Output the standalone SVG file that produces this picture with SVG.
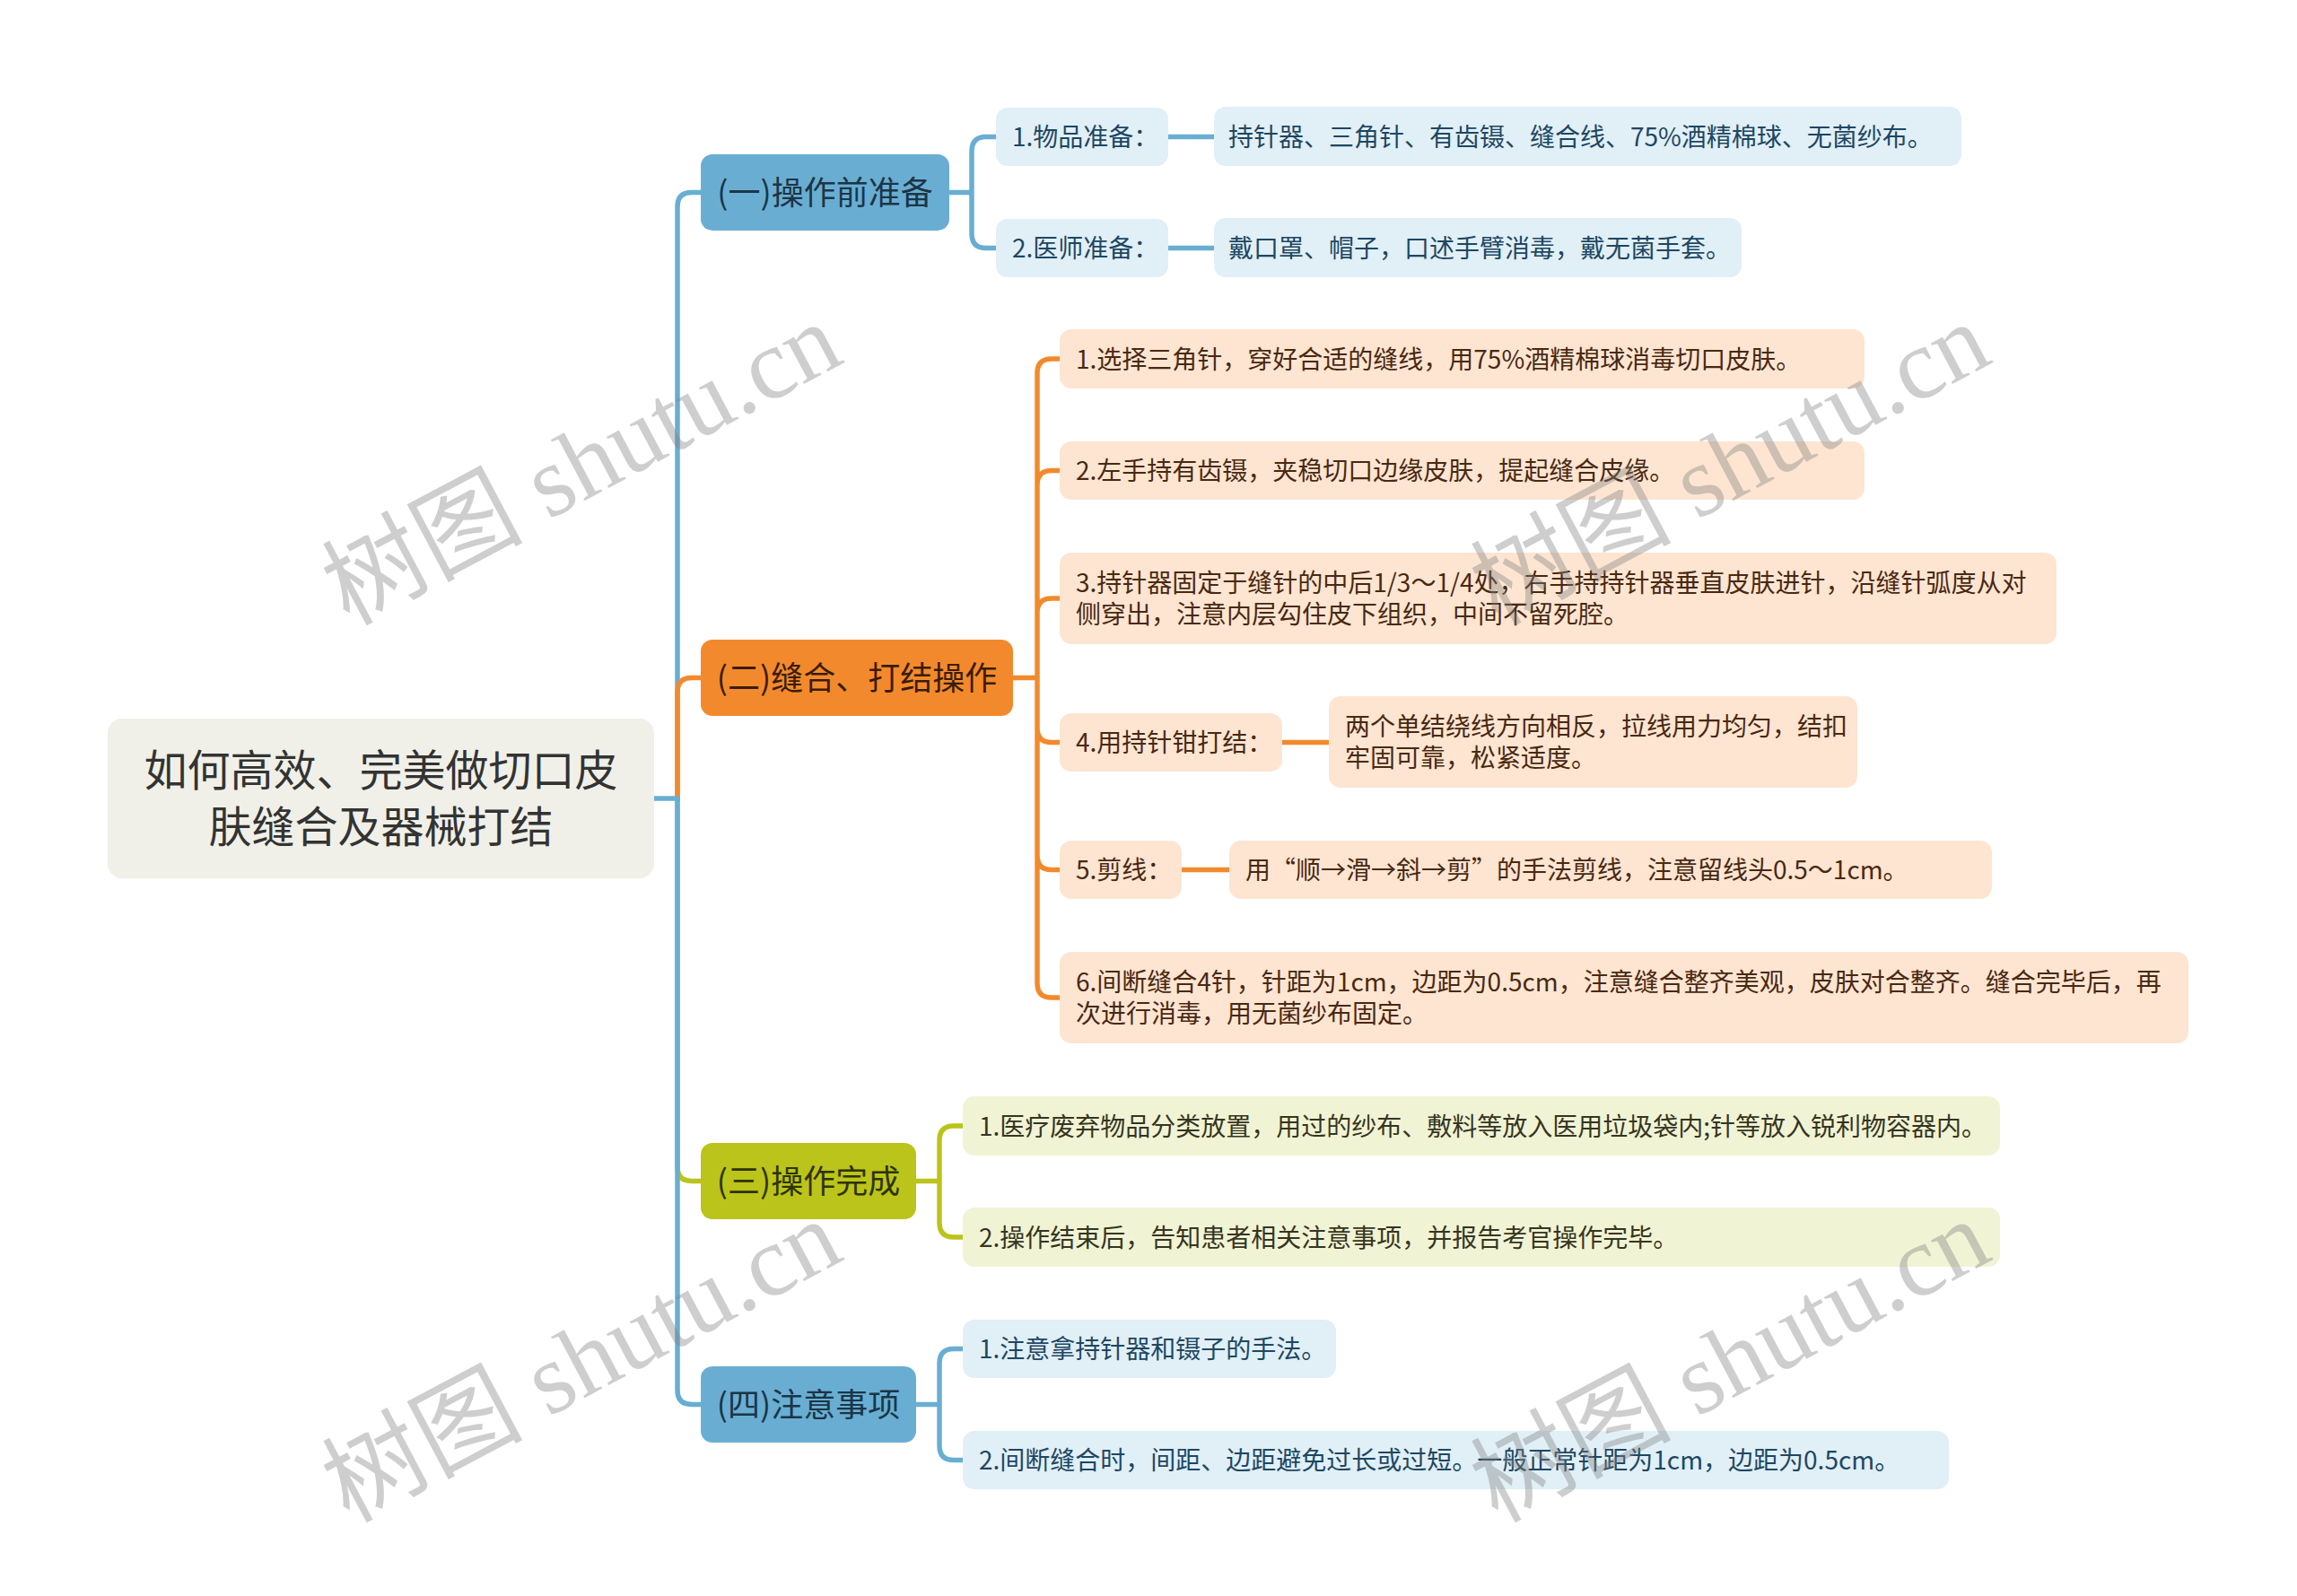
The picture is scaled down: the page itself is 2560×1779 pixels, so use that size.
<svg xmlns="http://www.w3.org/2000/svg" width="2560" height="1779" viewBox="0 0 2560 1779">
<style>
text{font-family:"Noto Sans CJK SC","Noto Sans",sans-serif}
.root rect{fill:#f0f0e8}
.root text{font-size:48px;fill:#333333;text-anchor:middle}
.l1 text{font-size:36px;text-anchor:middle}
.b1 rect{fill:#69aed2}.b1 text{fill:#1b3547}
.o1 rect{fill:#f28a2d}.o1 text{fill:#3a1c04}
.g1 rect{fill:#bac41a}.g1 text{fill:#2f3300}
.lf text{font-size:28px}
.bl rect{fill:#e1eff7}.bl text{fill:#1d4763}
.ol rect{fill:#fde5d2}.ol text{fill:#4a2810}
.gl rect{fill:#f1f3d5}.gl text{fill:#353520}
.c path{fill:none;stroke-width:5.5;stroke-linecap:butt}
.cb{stroke:#69aed2}.co{stroke:#f28a2d}.cg{stroke:#bac41a}
.wm text{font-family:"Liberation Serif","Noto Sans CJK SC",serif;font-size:112px;fill:#808080;opacity:0.38}
</style>
<rect width="2560" height="1779" fill="#ffffff"/>
<g class="c" id="connectors">
<path class="cb" d="M755,890 V230.5 Q755,214.5 771,214.5 H783"/>
<path class="co" d="M755,890 V771.5 Q755,755.5 771,755.5 H783"/>
<path class="cg" d="M755,890 V1300.5 Q755,1316.5 771,1316.5 H783"/>
<path class="cb" d="M755,890 V1549.5 Q755,1565.5 771,1565.5 H783"/>
<path class="cb" d="M727,890 H758"/>
<path class="cb" d="M1056,214.5 H1083 M1083,214.5 V168.5 Q1083,152.5 1099,152.5 H1112 M1083,214.5 V260.5 Q1083,276.5 1099,276.5 H1112"/>
<path class="cb" d="M1300,152.5 H1355 M1300,276.5 H1355"/>
<path class="co" d="M1127,755.5 H1156 M1156,755.5 V416 Q1156,400 1172,400 H1183 M1156,755.5 V540.5 Q1156,524.5 1172,524.5 H1183 M1156,755.5 V683 Q1156,667 1172,667 H1183 M1156,755.5 V811.5 Q1156,827.5 1172,827.5 H1183 M1156,755.5 V953.5 Q1156,969.5 1172,969.5 H1183 M1156,755.5 V1096 Q1156,1112 1172,1112 H1183"/>
<path class="co" d="M1427,827.5 H1483 M1315,969.5 H1372"/>
<path class="cg" d="M1019,1316.5 H1047 M1047,1316.5 V1271 Q1047,1255 1063,1255 H1075 M1047,1316.5 V1363 Q1047,1379 1063,1379 H1075"/>
<path class="cb" d="M1019,1565.5 H1047 M1047,1565.5 V1519.5 Q1047,1503.5 1063,1503.5 H1075 M1047,1565.5 V1611.5 Q1047,1627.5 1063,1627.5 H1075"/>
</g>
<g id="root" class="root">
<rect x="120" y="801" width="609" height="178" rx="16"/>
<text x="424.5" y="876">如何高效、完美做切口皮</text>
<text x="424.5" y="939">肤缝合及器械打结</text>
</g>
<g id="n1" class="l1 b1"><rect x="781" y="172" width="277" height="85" rx="13"/><text x="919.5" y="228">(一)操作前准备</text></g>
<g id="n2" class="l1 o1"><rect x="781" y="713" width="348" height="85" rx="13"/><text x="955" y="769">(二)缝合、打结操作</text></g>
<g id="n3" class="l1 g1"><rect x="781" y="1274" width="240" height="85" rx="13"/><text x="901" y="1330">(三)操作完成</text></g>
<g id="n4" class="l1 b1"><rect x="781" y="1523" width="240" height="85" rx="13"/><text x="901" y="1579">(四)注意事项</text></g>

<g id="n1-1" class="lf bl"><rect x="1110" y="120" width="192" height="65" rx="13"/><text x="1128" y="163">1.物品准备：</text></g>
<g id="n1-1-1" class="lf bl"><rect x="1353" y="119" width="833" height="66" rx="13"/><text x="1369" y="163">持针器、三角针、有齿镊、缝合线、75%酒精棉球、无菌纱布。</text></g>
<g id="n1-2" class="lf bl"><rect x="1110" y="244" width="192" height="65" rx="13"/><text x="1128" y="287">2.医师准备：</text></g>
<g id="n1-2-1" class="lf bl"><rect x="1353" y="243" width="588" height="66" rx="13"/><text x="1369" y="287">戴口罩、帽子，口述手臂消毒，戴无菌手套。</text></g>

<g id="n2-1" class="lf ol"><rect x="1181" y="367" width="897" height="66" rx="13"/><text x="1199" y="411">1.选择三角针，穿好合适的缝线，用75%酒精棉球消毒切口皮肤。</text></g>
<g id="n2-2" class="lf ol"><rect x="1181" y="492" width="897" height="65" rx="13"/><text x="1199" y="535">2.左手持有齿镊，夹稳切口边缘皮肤，提起缝合皮缘。</text></g>
<g id="n2-3" class="lf ol"><rect x="1181" y="616" width="1111" height="102" rx="13"/><text x="1199" y="660">3.持针器固定于缝针的中后1/3～1/4处，右手持持针器垂直皮肤进针，沿缝针弧度从对</text><text x="1199" y="695">侧穿出，注意内层勾住皮下组织，中间不留死腔。</text></g>
<g id="n2-4" class="lf ol"><rect x="1181" y="795" width="248" height="65" rx="13"/><text x="1199" y="838">4.用持针钳打结：</text></g>
<g id="n2-4-1" class="lf ol"><rect x="1481" y="776" width="589" height="102" rx="13"/><text x="1499" y="820">两个单结绕线方向相反，拉线用力均匀，结扣</text><text x="1499" y="855">牢固可靠，松紧适度。</text></g>
<g id="n2-5" class="lf ol"><rect x="1181" y="937" width="136" height="65" rx="13"/><text x="1199" y="980">5.剪线：</text></g>
<g id="n2-5-1" class="lf ol"><rect x="1370" y="937" width="850" height="65" rx="13"/><text x="1388" y="980">用“顺→滑→斜→剪”的手法剪线，注意留线头0.5～1cm。</text></g>
<g id="n2-6" class="lf ol"><rect x="1181" y="1061" width="1258" height="102" rx="13"/><text x="1199" y="1105">6.间断缝合4针，针距为1cm，边距为0.5cm，注意缝合整齐美观，皮肤对合整齐。缝合完毕后，再</text><text x="1199" y="1140">次进行消毒，用无菌纱布固定。</text></g>

<g id="n3-1" class="lf gl"><rect x="1073" y="1222" width="1156" height="66" rx="13"/><text x="1091" y="1266">1.医疗废弃物品分类放置，用过的纱布、敷料等放入医用垃圾袋内;针等放入锐利物容器内。</text></g>
<g id="n3-2" class="lf gl"><rect x="1073" y="1346" width="1156" height="66" rx="13"/><text x="1091" y="1390">2.操作结束后，告知患者相关注意事项，并报告考官操作完毕。</text></g>

<g id="n4-1" class="lf bl"><rect x="1073" y="1471" width="416" height="65" rx="13"/><text x="1091" y="1514">1.注意拿持针器和镊子的手法。</text></g>
<g id="n4-2" class="lf bl"><rect x="1073" y="1595" width="1099" height="65" rx="13"/><text x="1091" y="1638">2.间断缝合时，间距、边距避免过长或过短。一般正常针距为1cm，边距为0.5cm。</text></g>

<g class="wm" id="watermarks">
<text transform="translate(648,517) rotate(-28)" text-anchor="middle" y="38">树图 shutu.cn</text>
<text transform="translate(1928,517) rotate(-28)" text-anchor="middle" y="38">树图 shutu.cn</text>
<text transform="translate(648,1517) rotate(-28)" text-anchor="middle" y="38">树图 shutu.cn</text>
<text transform="translate(1928,1517) rotate(-28)" text-anchor="middle" y="38">树图 shutu.cn</text>
</g>
</svg>
